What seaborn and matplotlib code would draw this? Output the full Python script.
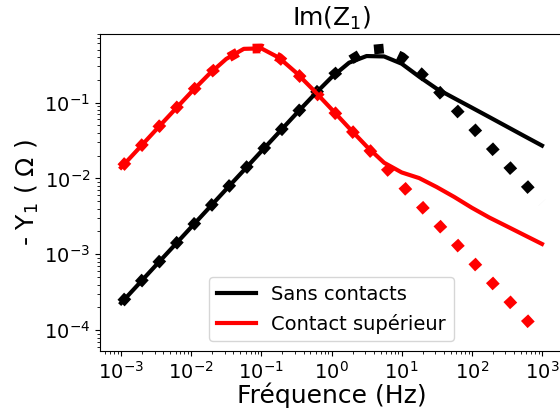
import numpy as np
import pandas as pd
import matplotlib
matplotlib.use("Agg")
import matplotlib.pyplot as plt
from matplotlib.ticker import LogLocator
import seaborn as sns

# frequencies (Hz), 4 points per decade
freq = [0.001, 0.00178, 0.00316, 0.00562, 0.01, 0.0178, 0.0316, 0.0562,
        0.1, 0.178, 0.316, 0.562, 1.0, 1.78, 3.16, 5.62,
        10.0, 17.8, 31.6, 56.2, 100.0, 178.0, 316.0, 562.0, 1000.0]

# -Im(Z1), sans contacts
sans_mesure = [2.28e-4, 4.06e-4, 7.22e-4, 1.28e-3, 2.28e-3, 4.06e-3, 7.22e-3, 0.0128,
               0.0228, 0.0405, 0.0718, 0.126, 0.218, 0.353, 0.490, 0.515,
               0.399, 0.255, 0.150, 0.0853, 0.0482, 0.0271, 0.0153, 0.00859, 0.00483]
sans_modele = [2.28e-4, 4.06e-4, 7.22e-4, 1.28e-3, 2.28e-3, 4.06e-3, 7.22e-3, 0.0128,
               0.0228, 0.0405, 0.0718, 0.126, 0.215, 0.335, 0.410, 0.405,
               0.325, 0.219, 0.152, 0.114, 0.0857, 0.0643, 0.0482, 0.0361, 0.0271]

# -Im(Z1), contact supérieur
sup_mesure = [0.0139, 0.0247, 0.0439, 0.0777, 0.137, 0.235, 0.376, 0.510,
              0.517, 0.390, 0.246, 0.144, 0.0819, 0.0462, 0.0260, 0.0146,
              0.00824, 0.00463, 0.00261, 0.00147, 8.24e-4, 4.63e-4, 2.61e-4, 1.47e-4, 8.24e-5]
sup_modele = [0.0139, 0.0247, 0.0439, 0.0777, 0.137, 0.235, 0.376, 0.510,
              0.517, 0.390, 0.246, 0.144, 0.0819, 0.0462, 0.0265, 0.0161,
              0.0120, 0.0101, 0.0077, 0.0057, 0.00411, 0.00305, 0.00234, 0.00179, 0.00137]

df = pd.DataFrame({"f": freq, "sans_m": sans_mesure, "sans_s": sans_modele,
                   "sup_m": sup_mesure, "sup_s": sup_modele})

fig = plt.figure(figsize=(5.6, 4.12), dpi=100)
ax = fig.add_axes([0.1786, 0.148, 1.0054 - 0.1786, 0.9175 - 0.148])

sns.lineplot(data=df, x="f", y="sans_m", ax=ax, color="black", lw=7, ls=":", legend=False)
sns.lineplot(data=df, x="f", y="sup_m", ax=ax, color="red", lw=7, ls=":", legend=False)
sns.lineplot(data=df, x="f", y="sans_s", ax=ax, color="black", lw=3, label="Sans contacts")
sns.lineplot(data=df, x="f", y="sup_s", ax=ax, color="red", lw=3, label="Contact supérieur")

ax.set_xscale("log")
ax.set_yscale("log")
ax.xaxis.set_major_locator(LogLocator(base=10, numticks=20))
ax.yaxis.set_major_locator(LogLocator(base=10, numticks=20))
ax.tick_params(labelsize=14)
ax.set_xlabel("Fréquence (Hz)", fontsize=18, labelpad=0)
ax.set_ylabel("- Y$_1$ ( $\\Omega$ )", fontsize=18, labelpad=2.5)
ax.set_title("Im(Z$_1$)", fontsize=18)
ax.legend(loc="lower center", fontsize=14)

plt.savefig("out.png", dpi=100)
